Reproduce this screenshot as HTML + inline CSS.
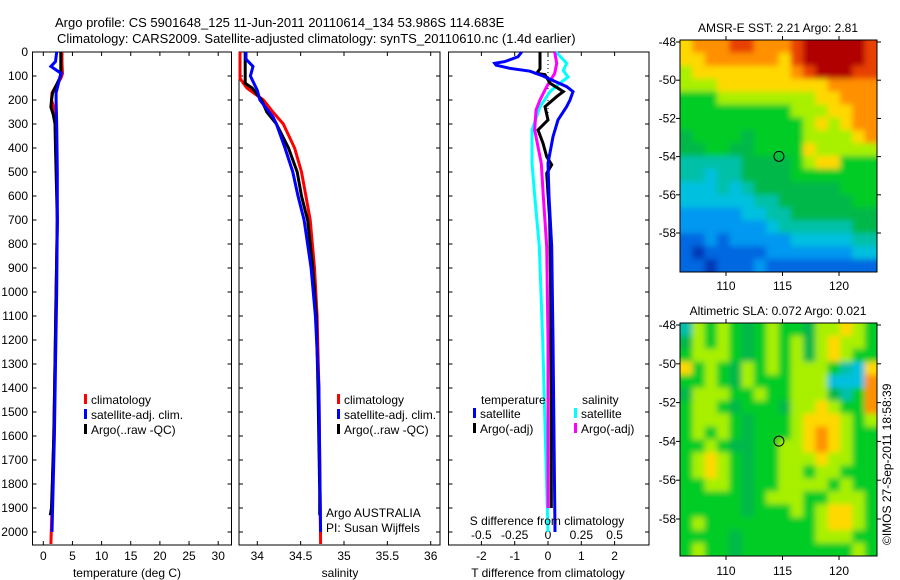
<!DOCTYPE html>
<html><head><meta charset="utf-8"><style>
body{margin:0;background:#fff;}
svg{display:block;font-family:"Liberation Sans",sans-serif;}
text{font-size:12px;fill:#000;}
</style></head><body>
<svg id="s" width="900" height="580" viewBox="0 0 900 580" xmlns="http://www.w3.org/2000/svg">
<defs>
<filter id="blur" x="-10%" y="-10%" width="120%" height="120%"><feGaussianBlur stdDeviation="3"/></filter>
<clipPath id="clip1"><rect x="680" y="40" width="197" height="232"/></clipPath>
<clipPath id="clip2"><rect x="680" y="323" width="197" height="233"/></clipPath>
</defs>
<rect width="900" height="580" fill="#fff"/>
<text x="55" y="27" style="font-size:13px">Argo profile: CS 5901648_125 11-Jun-2011 20110614_134 53.986S 114.683E</text>
<text x="57" y="43" style="font-size:13px">Climatology: CARS2009. Satellite-adjusted climatology: synTS_20110610.nc (1.4d earlier)</text>
<g id="g"></g>
<text transform="translate(891,545) rotate(-90)" style="font-size:12px">©IMOS 27-Sep-2011 18:58:39</text>
</svg>
<script>
// ---- profile data ----
const tRedD=[0,50,90,110,140,170,200,230,260,300,400,500,700,1000,1300,1600,1900,2050];
const tRedV=[3.2,3.2,3.3,3.0,2.2,1.5,1.4,1.8,2.0,2.1,2.2,2.3,2.4,2.2,2.0,1.8,1.5,1.3];
const tBlkD=[0,50,90,110,140,170,200,230,260,300,400,500,700,1000,1300,1600,1900,1930];
const tBlkV=[3.0,3.0,3.0,2.8,2.2,1.6,1.4,1.3,1.7,2.0,2.1,2.2,2.4,2.2,2.0,1.8,1.4,1.2];
const tBluD=[0,40,60,90,110,140,170,200,300,500,700,1000,1300,1600,1900,2000];
const tBluV=[2.3,2.1,1.3,3.1,2.8,2.5,2.2,2.2,2.3,2.4,2.4,2.3,2.1,1.9,1.6,1.5];
const sRedD=[0,110,150,200,250,300,400,500,600,700,900,1100,1400,1700,2050];
const sRedV=[33.80,33.80,33.88,34.07,34.18,34.30,34.43,34.51,34.56,34.61,34.66,34.69,34.71,34.72,34.73];
const sBlkD=[0,130,150,200,250,300,400,500,600,700,900,1100,1400,1830,1930];
const sBlkV=[33.86,33.86,33.94,34.05,34.11,34.22,34.36,34.46,34.51,34.58,34.64,34.68,34.70,34.72,34.72];
const sBluD=[0,30,60,100,160,200,270,300,400,500,600,700,900,1100,1400,1700,2000];
const sBluV=[33.87,33.87,33.95,33.92,34.0,34.03,34.18,34.22,34.32,34.41,34.47,34.54,34.62,34.67,34.71,34.72,34.73];
const dTsD=[0,20,40,47,55,68,80,100,117,144,165,200,228,283,353,464,600,811,1200,1600,2000];
const dTsV=[-0.79,-0.9,-1.3,-1.6,-1.56,-1.15,-0.54,-0.15,0.12,0.56,0.75,0.66,0.56,0.3,0.15,0,0.03,0.11,0.15,0.18,0.21];
const dTaD=[0,70,89,94,130,165,186,228,283,325,380,436,470,506,700,1000,1400,1900];
const dTaV=[-0.24,-0.24,-0.34,-0.09,0.06,0.46,0.26,-0.09,0,-0.3,-0.15,-0.04,0.11,-0.04,0.05,0.08,0.1,0.1];
const dSsD=[0,47,77,104,130,165,228,325,464,600,811,1200,1600,2000];
const dSsV=[0.06,0.14,0.115,0.15,0.09,0.015,-0.06,-0.12,-0.12,-0.1,-0.065,-0.04,-0.02,0];
const dSaD=[0,47,89,144,200,242,325,464,600,811,1200,1600,1900];
const dSaV=[0.05,0.065,0.05,-0.01,-0.06,-0.09,-0.1,-0.05,-0.035,-0.01,0,0,0];
const depthTicks=[0,100,200,300,400,500,600,700,800,900,1000,1100,1200,1300,1400,1500,1600,1700,1800,1900,2000];
const tTicks=[0,5,10,15,20,25,30];
const sTicks=[34,34.5,35,35.5,36];
const dTTicks=[-2,-1,0,1,2];
const dSTicks=[-0.5,-0.25,0,0.25,0.5];
const dSTickLabels=["-0.5","-0.25","0","0.25","0.5"];
// ---- map data ----
const sstRows=["8999aa999abbbbba","889999998abbbbba","7888888889abbbaa","7778888888889999","6667777777788999","6666666667778899","6666666666787899","5666656666777789","5566556666877777","4444455556788666","4434455556666666","3334345555555666","3333334455555566","2222233445555555","2222222344444455","1121222223333344","1011111222222233","1101112111111111"];
const slaRows=["4767656766577876","5767656767578776","6777656767578766","8676576767776438","6676576667773339","5777667667775469","6776566657787669","6777656667888767","6767656667898766","6676556677898766","6787656677787766","6787656677677666","6677656677776766","6666656777667776","6666656667678876","6766666666678876","6666566666677766","6766566666666676"];
const palette={"0":"#0038b8","1":"#0068e0","2":"#0098f0","3":"#00c0e0","4":"#00c0a8","5":"#00b848","6":"#00cc28","7":"#a8f000","8":"#ffd800","9":"#ff9000","a":"#e84000","b":"#b00000"};
const latTicks=[-48,-50,-52,-54,-56,-58];
const lonTicks=[110,115,120];
const argoLon=114.683, argoLat=-53.986;

const NS="http://www.w3.org/2000/svg";
const G=document.getElementById('g');
function mk(tag,attrs,parent){const e=document.createElementNS(NS,tag);for(const k in attrs)e.setAttribute(k,attrs[k]);(parent||G).appendChild(e);return e;}
function txt(x,y,s,anchor,size){const t=mk('text',{x:x,y:y,'text-anchor':anchor||'start'});if(size)t.style.fontSize=size+'px';t.textContent=s;return t;}
const Y=d=>52+d*0.24;
const PT=52, PB=545;
const tX=v=>43.3+v*5.83;
const sX=v=>257.3+(v-34)*86.7;
const dTX=v=>548+v*33.3;
const dSX=v=>548+v*133.3;

function panel(x0,x1,name){
  const r=mk('rect',{x:x0,y:PT,width:x1-x0,height:PB-PT,fill:'none',stroke:'#000','stroke-width':1});
  
  
  depthTicks.forEach(d=>{
    mk('line',{x1:x0,x2:x0+4,y1:Y(d),y2:Y(d),stroke:'#000'});
    mk('line',{x1:x1-4,x2:x1,y1:Y(d),y2:Y(d),stroke:'#000'});
  });
}
function xticks(arr,fx,labels,ly,name){
  arr.forEach((v,i)=>{
    const x=fx(v);
    mk('line',{x1:x,x2:x,y1:PT,y2:PT+4,stroke:'#000'});
    mk('line',{x1:x,x2:x,y1:PB-4,y2:PB,stroke:'#000'});
    if(labels){const t=txt(x,ly,labels[i],'middle');
      
      }
  });
}
function line(D,V,fx,color,name){
  const p=D.map((d,i)=>fx(V[i]).toFixed(1)+','+Y(d).toFixed(1)).join(' ');
  const e=mk('polyline',{points:p,fill:'none',stroke:color,'stroke-width':3,'stroke-linejoin':'miter'});
  
  
}
depthTicks.forEach(d=>{const t=txt(28,Y(d)+4,String(d),'end');
  
  });

panel(32.5,231.5,'temperature-panel');
xticks(tTicks,tX,tTicks.map(String),560,'temperature-tick-label');
line(tRedD,tRedV,tX,'#ff0000','temp-climatology-line');
line(tBlkD,tBlkV,tX,'#000000','temp-argo-line');
line(tBluD,tBluV,tX,'#0000ff','temp-satellite-line');
let t=txt(127,577,'temperature (deg C)','middle');


panel(239,440,'salinity-panel');
xticks(sTicks,sX,sTicks.map(String),560,'salinity-tick-label');
line(sRedD,sRedV,sX,'#ff0000','sal-climatology-line');
line(sBlkD,sBlkV,sX,'#000000','sal-argo-line');
line(sBluD,sBluV,sX,'#0000ff','sal-satellite-line');
t=txt(340,577,'salinity','middle');


panel(448.5,649,'difference-panel');
xticks(dTTicks,dTX,dTTicks.map(String),560,'t-diff-tick-label');
dSTicks.forEach((v,i)=>{const x=dSX(v);const tt=txt(x,539,dSTickLabels[i],'middle');
  });
mk('line',{x1:548,x2:548,y1:PT,y2:Y(300),stroke:'#000','stroke-dasharray':'1,3'});
line(dSsD,dSsV,dSX,'#00ffff','s-diff-satellite-line');
line(dSaD,dSaV,dSX,'#ff00ff','s-diff-argo-line');
line(dTaD,dTaV,dTX,'#000000','t-diff-argo-line');
line(dTsD,dTsV,dTX,'#0000ff','t-diff-satellite-line');
t=txt(548,577,'T difference from climatology','middle');

t=txt(547,525,'S difference from climatology','middle');


function leg(x,y,color,label,name){
  const b=mk('rect',{x:x,y:y-10,width:3,height:10,fill:color});
  
  const tt=txt(x+7,y,label);
  
}
leg(84,404,'#ff0000','climatology','legend-climatology');
leg(84,419,'#0000ff','satellite-adj. clim.','legend-satellite');
leg(84,434,'#000000','Argo(..raw -QC)','legend-argo');
leg(337,404,'#ff0000','climatology','legend-climatology');
leg(337,419,'#0000ff','satellite-adj. clim.','legend-satellite');
leg(337,434,'#000000','Argo(..raw -QC)','legend-argo');
t=txt(481,404,'temperature');
t=txt(582,404,'salinity');
leg(473,418,'#0000ff','satellite','legend-t-satellite');
leg(473,433,'#000000','Argo(-adj)','legend-t-argo');
leg(574,418,'#00ffff','satellite','legend-s-satellite');
leg(574,433,'#ff00ff','Argo(-adj)','legend-s-argo');
t=txt(326,517,'Argo AUSTRALIA');
t=txt(326,532,'PI: Susan Wijffels');

function map(rows,top,bot,lat48,scale,title,name,lonLabelY,clip){
  const L=680,R=877,lon0=105.93,lon1=123.36;
  const lx=v=>L+(v-lon0)*(R-L)/(lon1-lon0);
  const ly=v=>lat48+(-48-v)*scale;
  const nr=rows.length,nc=rows[0].length;
  const cw=(R-L)/nc,ch=(bot-top)/nr;
  const outer=mk('g',{'clip-path':'url(#'+clip+')'});
  
  
  const g=mk('g',{filter:'url(#blur)'},outer);
  const pad=10;
  rows.forEach((row,r)=>{[...row].forEach((c,k)=>{
    let x=L+k*cw,y=top+r*ch,w=cw+0.6,h=ch+0.6;
    if(k===0){x-=pad;w+=pad;} if(k===nc-1){w+=pad;}
    if(r===0){y-=pad;h+=pad;} if(r===nr-1){h+=pad;}
    mk('rect',{x:x.toFixed(2),y:y.toFixed(2),width:w.toFixed(2),height:h.toFixed(2),fill:palette[c]},g);
  });});
  mk('rect',{x:L,y:top,width:R-L,height:bot-top,fill:'none',stroke:'#000'});
  latTicks.forEach(v=>{const y=ly(v);
    mk('line',{x1:L-4,x2:L,y1:y,y2:y,stroke:'#000'});
    mk('line',{x1:R,x2:R+4,y1:y,y2:y,stroke:'#000'});
    const tt=txt(676,y+4,String(v),'end');
    });
  lonTicks.forEach(v=>{const x=lx(v);
    mk('line',{x1:x,x2:x,y1:top-4,y2:top,stroke:'#000'});
    mk('line',{x1:x,x2:x,y1:bot,y2:bot+4,stroke:'#000'});
    const tt=txt(x,lonLabelY,String(v),'middle');
    });
  const c=mk('circle',{cx:lx(argoLon),cy:ly(argoLat),r:5,fill:'none',stroke:'#000','stroke-width':1});
  
  const tt=txt(778,top-8,title,'middle');
  
}
map(sstRows,40,272,42,19.1,'AMSR-E SST: 2.21 Argo: 2.81','sst-map',290,'clip1');
map(slaRows,323,556,325,19.4,'Altimetric SLA: 0.072 Argo: 0.021','sla-map',575,'clip2');
</script>
</body></html>
